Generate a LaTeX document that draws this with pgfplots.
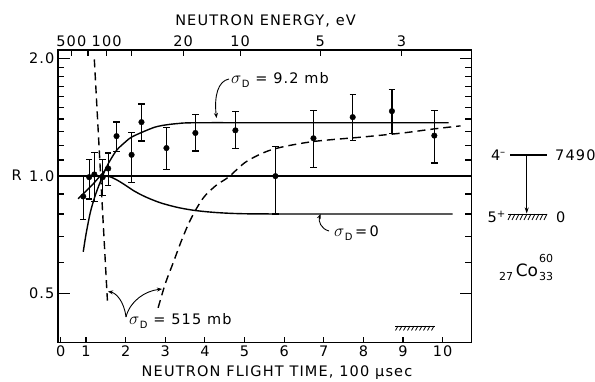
\documentclass[border=0pt]{standalone}
\usepackage{pgfplots}
\pgfplotsset{compat=1.18}
\usetikzlibrary{arrows.meta}
\usepackage{fontspec}
\setmainfont{DejaVu Sans}
\newfontfamily\spaced[LetterSpace=8]{DejaVu Sans}
\newcommand{\sD}{{\fontsize{19}{19}\selectfont$\sigma$}\kern0.5pt\raisebox{-0.45ex}{\fontsize{10}{10}\selectfont D}}
\begin{document}
\begin{tikzpicture}[x=1pt,y=1pt]
\useasboundingbox (0,0) rectangle (595,381);
\begin{axis}[
  at={(58pt,38.3pt)}, anchor=south west,
  scale only axis, width=413.7pt, height=292.7pt,
  xmin=0.293, xmax=10.733,
  ymode=log, ymin=0.3745, ymax=2.104,
  xtick={1,...,10}, xtick pos=bottom,
  extra x ticks={0.36}, extra x tick labels={0},
  extra x tick style={major tick length=0pt},
  ytick={0.5,1,2}, yticklabels={0.5,1.0,2.0},
  minor ytick={0.6,0.7,0.8,0.9,1.1,1.2,1.3,1.4,1.5,1.6,1.7,1.8,1.9},
  ytick pos=both,
  major tick length=12pt, minor tick length=6.5pt,
  xtick style={/pgfplots/major tick length=6pt},
  tick style={black, line width=1.2pt},
  axis line style={line width=1.5pt},
  tick label style={font=\fontsize{14.5}{16}\spaced},
  /pgf/number format/assume math mode=true,
]
% reference line R = 1
\addplot[black, line width=1.3pt] coordinates {(0.293,1) (10.733,1)};
% sigma_D = 9.2 mb (gentle branch)
\addplot[black, line width=1.4pt, smooth] coordinates {
(0.80,0.875) (1.0,0.915) (1.2,0.96) (1.35,1.0) (1.48,1.035) (1.56,1.076) (1.77,1.164) (2.0,1.225) (2.15,1.259) (2.45,1.30) (2.74,1.335) (3.0,1.352) (3.3,1.363) (3.75,1.37) (6.0,1.37) (10.15,1.37)};
% steep branch
\addplot[black, line width=1.4pt, smooth] coordinates {
(0.93,0.64) (1.0,0.71) (1.1,0.80) (1.18,0.858) (1.27,0.915) (1.40,0.99) (1.52,1.06)};
% sigma_D = 0
\addplot[black, line width=1.4pt, smooth] coordinates {
(1.45,1.0) (1.6,0.997) (1.8,0.975) (2.0,0.947) (2.2,0.918) (2.4,0.895) (2.6,0.876) (2.9,0.853) (3.3,0.832) (3.7,0.818) (4.2,0.808) (4.8,0.802) (5.8,0.80) (10.25,0.80)};
% sigma_D = 515 mb (dashed)
\addplot[black, line width=1.4pt, dash pattern=on 8pt off 5pt] coordinates {(1.21,1.99) (1.54,0.48)};
\addplot[black, line width=1.4pt, dash pattern=on 8pt off 5pt, smooth] coordinates {
(2.82,0.46) (3.0,0.53) (3.2,0.60) (3.4,0.68) (3.6,0.76) (3.8,0.83) (4.0,0.89) (4.3,0.95) (4.6,0.995) (5.05,1.09) (5.7,1.17) (6.7,1.225) (8.0,1.26) (9.0,1.29) (9.75,1.32) (10.45,1.345)};
% data with error bars
\addplot[only marks, mark=*, mark size=2.8pt, black,
  error bars/.cd, y dir=both, y explicit,
  error bar style={line width=1.2pt},
  error mark options={rotate=90, mark size=3.2pt, line width=1.2pt}]
coordinates {
(0.93,0.887) += (0,0.113) -= (0,0.114)
(1.08,0.994) += (0,0.11) -= (0,0.12)
(1.21,1.01) += (0,0.14) -= (0,0.15)
(1.42,0.994) += (0,0.11) -= (0,0.10)
(1.56,1.046) += (0,0.10) -= (0,0.10)
(1.77,1.266) += (0,0.11) -= (0,0.11)
(2.15,1.134) += (0,0.16) -= (0,0.17)
(2.40,1.375) += (0,0.155) -= (0,0.145)
(3.03,1.18) += (0,0.15) -= (0,0.14)
(3.76,1.29) += (0,0.15) -= (0,0.13)
(4.77,1.31) += (0,0.155) -= (0,0.135)
(5.78,1.0) += (0,0.19) -= (0,0.20)
(6.74,1.25) += (0,0.22) -= (0,0.20)
(7.73,1.416) += (0,0.20) -= (0,0.18)
(8.72,1.467) += (0,0.20) -= (0,0.18)
(9.79,1.27) += (0,0.20) -= (0,0.19)
};
\end{axis}
% top energy axis
\begin{axis}[
  at={(58pt,38.3pt)}, anchor=south west,
  scale only axis, width=413.7pt, height=292.7pt,
  xmin=0.293, xmax=10.733, ymin=0, ymax=1,
  axis x line*=top, axis y line=none,
  tick align=inside,
  xtick={0.63,1.05,1.52,2.15,3.45,4.89,6.91,8.96},
  xticklabels={500,,100,,20,10,5,3},
  major tick length=6pt,
  tick style={black, line width=1.2pt},
  axis line style={line width=1.5pt, -},
  tick label style={font=\fontsize{14.5}{16}\spaced},
]
\addplot[draw=none] coordinates {(1,0.5)};
\end{axis}
% labels
\node[font=\fontsize{14.5}{16}\spaced] at (265.5,360.3) {NEUTRON ENERGY, eV};
\node[font=\fontsize{14.5}{16}\spaced] at (277,8.5) {NEUTRON FLIGHT TIME, 100 μsec};
\node[font=\fontsize{14.5}{16}\selectfont] at (16.7,205.3) {R};
% annotations
\node[anchor=west, font=\fontsize{14.5}{16}\spaced, inner sep=0pt] at (231,301) {\sD\ = 9.2 mb};
\draw[line width=0.9pt, -{Stealth[length=5pt,width=4pt]}] (229,302) .. controls (218,300) and (214,285) .. (216.5,263);
\node[anchor=west, font=\fontsize{14.5}{16}\spaced, inner sep=0pt] at (334,148) {\sD\,=\,0};
\draw[line width=0.9pt, -{Stealth[length=5pt,width=4pt]}] (329,150) .. controls (321,152) and (318,160) .. (320.5,167);
\node[anchor=west, font=\fontsize{14.5}{16}\spaced, inner sep=0pt] at (129,60) {\sD\ = 515 mb};
\draw[line width=0.9pt, -{Stealth[length=5pt,width=4pt]}] (126,64) .. controls (124,80) and (116,88) .. (108,89.5);
\draw[line width=0.9pt, -{Stealth[length=5pt,width=4pt]}] (126,64) .. controls (130,80) and (145,90) .. (162,92);
% hatch at bottom right
\draw[line width=1pt] (395,55) -- (435,55);
\foreach \h in {398,402,...,434} \draw[line width=0.8pt] (\h,55) -- (\h-2.5,50.5);
% level diagram
\node[font=\fontsize{14.5}{16}\selectfont, anchor=east, inner sep=0pt] at (506,226) {4\textsuperscript{–}};
\draw[line width=1.2pt] (510,226) -- (547,226);
\node[font=\fontsize{14.5}{16}\spaced, anchor=west, inner sep=0pt] at (555,226) {7490};
\draw[line width=1.2pt, -{Stealth[length=6pt,width=4pt]}] (526.7,226) -- (526.7,167.5);
\node[font=\fontsize{14.5}{16}\selectfont, anchor=east, inner sep=0pt] at (506,164) {5\textsuperscript{+}};
\draw[line width=1pt] (508,167) -- (547,167);
\foreach \h in {511,515,...,547} \draw[line width=0.8pt] (\h,167) -- (\h-3,161);
\node[font=\fontsize{14.5}{16}\selectfont, anchor=west, inner sep=0pt] at (556,164) {0};
\node[font=\fontsize{17}{19}\selectfont, inner sep=0pt] at (527,111) {Co};
\node[font=\fontsize{11}{12}\selectfont, inner sep=0pt] at (546,123) {60};
\node[font=\fontsize{11}{12}\selectfont, inner sep=0pt] at (546,105) {33};
\node[font=\fontsize{11}{12}\selectfont, inner sep=0pt] at (506,105) {27};
\end{tikzpicture}
\end{document}
